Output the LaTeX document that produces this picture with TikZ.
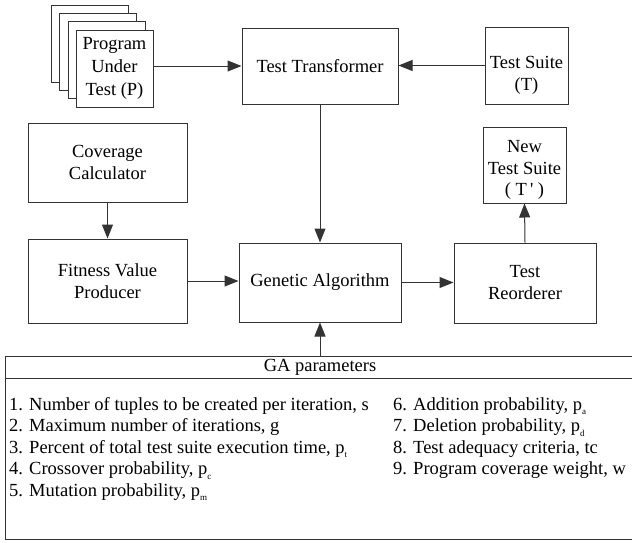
\documentclass[tikz,border=0pt]{standalone}
\usepackage{fontspec}
\setmainfont{Liberation Serif}
\usetikzlibrary{arrows.meta}
\newcommand\lowsub[1]{\raisebox{-4.5pt}{\fontsize{9}{9}\selectfont #1}}
\begin{document}
\begin{tikzpicture}[x=1pt,y=-1pt,
  box/.style={draw=black!80, line width=1pt, fill=white, inner sep=0pt, align=center,
    font=\fontsize{18.5}{22}\selectfont},
  txt/.style={inner sep=0pt, align=center, font=\fontsize{18.5}{22}\selectfont},
  arr/.style={draw=black!80, line width=1pt, -{Triangle[length=14pt,width=11pt]}},
  rule/.style={draw=black!80, line width=1pt},
  item/.style={anchor=base west, inner sep=0pt, font=\fontsize{18.5}{22}\selectfont}]
\useasboundingbox (0,0) rectangle (632,542);
\clip (0,0) rectangle (632,542);
% program stack
\node[box, minimum width=77pt, minimum height=77pt] (p4) at (89.5,43.5) {};
\node[box, minimum width=77pt, minimum height=77pt] (p3) at (98,51.5) {};
\node[box, minimum width=77pt, minimum height=77pt] (p2) at (106.5,60) {};
\node[box, minimum width=77pt, minimum height=77pt, font=\fontsize{18.5}{23}\selectfont] (prog) at (114.5,68.5) {Program\\Under\\Test (P)};
% top row
\node[box, minimum width=156pt, minimum height=76pt] (tt) at (320,66) {Test Transformer};
\node[box, minimum width=83pt, minimum height=77pt] (ts) at (526.5,65.5) {};
\node[txt, yshift=-10pt] (tstxt) at (ts.center) {Test Suite\\(T)};
% middle
\node[box, minimum width=159pt, minimum height=79pt] (cov) at (107.5,162.5) {Coverage\\Calculator};
\node[box, minimum width=83pt, minimum height=76pt] (nts) at (524.5,165) {};
\node[txt, yshift=-5pt, font=\fontsize{18.5}{21.5}\selectfont] (ntstxt) at (nts.center) {New\\Test Suite\\( T\,\textquotesingle\ )};
% lower row
\node[box, minimum width=159pt, minimum height=84pt] (fit) at (107.5,281) {Fitness Value\\Producer};
\node[box, minimum width=162pt, minimum height=79pt] (ga) at (320,282.5) {Genetic Algorithm};
\node[box, minimum width=142pt, minimum height=80pt] (re) at (525,283) {Test\\Reorderer};
% parameters
\node[box, minimum width=635pt, minimum height=183pt] (params) at (322.5,447.5) {};
\draw[rule] ([yshift=-23pt]params.north west) -- ([yshift=-23pt]params.north east);
\node[txt] (hdr) at (320,367.5) {GA parameters};
\node[item] (i1) at (9,410) {1. Number of tuples to be created per iteration, s};
\node[item] (i2) at (9,431.5) {2. Maximum number of iterations, g};
\node[item] (i3) at (9,453) {3. Percent of total test suite execution time, p\lowsub{t}};
\node[item] (i4) at (9,474.5) {4. Crossover probability, p\lowsub{c}};
\node[item] (i5) at (9,496) {5. Mutation probability, p\lowsub{m}};
\node[item] (i6) at (393,410) {6. Addition probability, p\lowsub{a}};
\node[item] (i7) at (393,431.5) {7. Deletion probability, p\lowsub{d}};
\node[item] (i8) at (393,453) {8. Test adequacy criteria, tc};
\node[item] (i9) at (393,474.5) {9. Program coverage weight, w};
% connectors
\draw[arr] (prog.east |- tt.west) -- (tt.west);
\draw[arr] (ts.west) -- (ts.west -| tt.east);
\draw[arr] (tt.south) -- (ga.north);
\draw[arr] (cov.south) -- (fit.north);
\draw[arr] (fit.east) -- (fit.east -| ga.west);
\draw[arr] (ga.east) -- (ga.east -| re.west);
\draw[arr] (re.north) -- (nts.south);
\draw[arr] (params.north -| ga.south) -- (ga.south);
\end{tikzpicture}
\end{document}
